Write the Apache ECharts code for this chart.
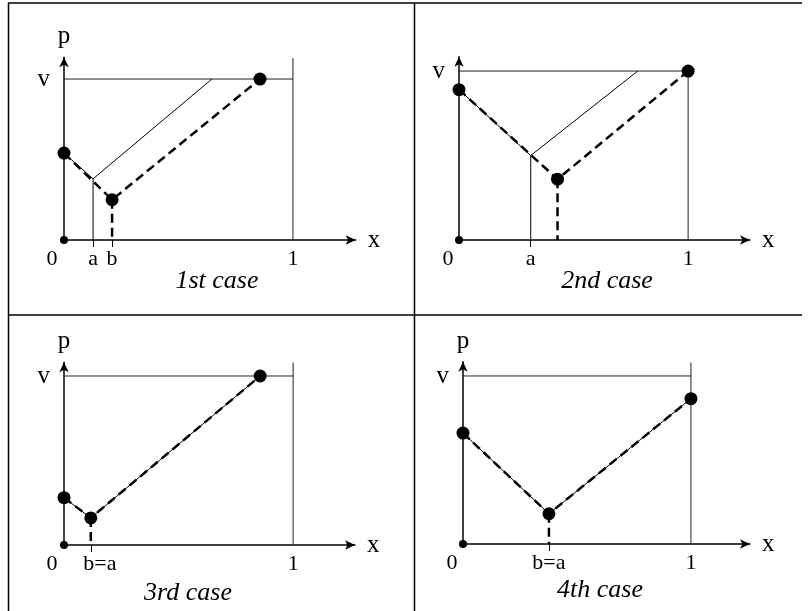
<!DOCTYPE html>
<html>
<head>
    <meta charset="utf-8">
    <title>Four cases</title>
    <script src="https://cdn.jsdelivr.net/npm/echarts@6.0.0/dist/echarts.min.js"></script>
</head>
<style>
    body { margin: 0; background: #fff; }
</style>
<body>
<div id="main" style="width: 811px; height: 611px;"></div>
<script>
// values in units of the plot: x from 0 to 1, p from 0 to v (v = 1)
const V = 1;

// 1st case
const solid1 = [[0, 0.54], [0.127, 0.38], [0.646, 1]];
const solidDrop1 = [[0.127, 0.38], [0.127, 0]];
const dashed1 = [[0, 0.54], [0.21, 0.25], [0.856, 1]];
const dashedDrop1 = [[0.21, 0.25], [0.21, 0]];
const dots1 = [[0, 0.54], [0.21, 0.25], [0.856, 1]];
const ticks1 = [0, 0.127, 0.21, 1];
const tickNames1 = ['0', 'a', 'b', '1'];

// 2nd case
const solid2 = [[0, 0.89], [0.313, 0.5], [0.78, 1]];
const solidDrop2 = [[0.313, 0.5], [0.313, 0]];
const dashed2 = [[0, 0.89], [0.43, 0.36], [1, 1]];
const dashedDrop2 = [[0.43, 0.36], [0.43, 0]];
const dots2 = [[0, 0.89], [0.43, 0.36], [1, 1]];
const ticks2 = [0, 0.313, 1];
const tickNames2 = ['0', 'a', '1'];

// 3rd case
const solid3 = [[0, 0.28], [0.117, 0.16], [0.856, 1]];
const dashed3 = [[0, 0.28], [0.117, 0.16], [0.856, 1]];
const dashedDrop3 = [[0.117, 0.16], [0.117, 0]];
const dots3 = [[0, 0.28], [0.117, 0.16], [0.856, 1]];
const ticks3 = [0, 0.117, 1];
const tickNames3 = ['0', 'b=a', '1'];

// 4th case
const solid4 = [[0, 0.66], [0.377, 0.18], [1, 0.865]];
const dashed4 = [[0, 0.66], [0.377, 0.18], [1, 0.865]];
const dashedDrop4 = [[0.377, 0.18], [0.377, 0]];
const dots4 = [[0, 0.66], [0.377, 0.18], [1, 0.865]];
const ticks4 = [0, 0.377, 1];
const tickNames4 = ['0', 'b=a', '1'];

// top of the x = 1 line in each case
const oneTop = [1.13, 1.03, 1.08, 1.08];
const captions = ['1st case', '2nd case', '3rd case', '4th case'];

const FONT = '"Liberation Serif", "DejaVu Serif", serif';
const FS = 22;   // tick labels
const NS = 25;   // axis names and the v label

const panels = [
    { solid: solid1, solidDrop: solidDrop1, dashed: dashed1, dashedDrop: dashedDrop1, dots: dots1, ticks: ticks1, names: tickNames1, showP: true,
      grid: { left: 64, top: 57.3, width: 291.7, height: 182.7 }, xMax: 1.274, yMax: 1.135, shift: { '0': -12 } },
    { solid: solid2, solidDrop: solidDrop2, dashed: dashed2, dashedDrop: dashedDrop2, dots: dots2, ticks: ticks2, names: tickNames2, showP: false,
      grid: { left: 459, top: 56.7, width: 291, height: 183.3 }, xMax: 1.27, yMax: 1.085, shift: { '0': -11 } },
    { solid: solid3, solidDrop: null, dashed: dashed3, dashedDrop: dashedDrop3, dots: dots3, ticks: ticks3, names: tickNames3, showP: true,
      grid: { left: 64, top: 362.3, width: 291, height: 182.7 }, xMax: 1.27, yMax: 1.081, shift: { '0': -12, 'b=a': 9 } },
    { solid: solid4, solidDrop: null, dashed: dashed4, dashedDrop: dashedDrop4, dots: dots4, ticks: ticks4, names: tickNames4, showP: true,
      grid: { left: 463, top: 361.7, width: 287, height: 182.3 }, xMax: 1.259, yMax: 1.085, shift: { '0': -11 } }
];

const captionPos = [[217, 281], [607, 281], [188, 593], [600, 590]];

let myChart = echarts.init(document.getElementById('main'));

function buildOption() {
    let grid = [], xAxis = [], yAxis = [], series = [];

    panels.forEach((p, i) => {
        grid.push(Object.assign({ containLabel: false, outerBoundsMode: 'none' }, p.grid));

        // rich styles to nudge a few tick labels sideways
        let rich = {};
        p.names.forEach((n, k) => {
            let s = p.shift[n] || 0;
            rich['t' + k] = {
                fontFamily: FONT, fontSize: FS, color: '#000',
                padding: s < 0 ? [0, -2 * s, 0, 0] : [0, 0, 0, 2 * s]
            };
        });

        xAxis.push({
            type: 'value', gridIndex: i, min: 0, max: p.xMax,
            name: 'x', nameLocation: 'end', nameGap: 12,
            nameTextStyle: { fontFamily: FONT, fontSize: NS, color: '#000', padding: [6, 0, 0, 0] },
            axisLine: { show: true, onZero: false, symbol: ['none', 'arrow'], symbolSize: [7, 10], lineStyle: { color: '#000', width: 1.5 } },
            axisTick: { show: true, customValues: p.ticks.slice(1, -1), length: 7, inside: false, lineStyle: { color: '#000', width: 1 } },
            axisLabel: {
                show: true, customValues: p.ticks, margin: 8, showMinLabel: true, showMaxLabel: true,
                formatter: val => {
                    let k = p.ticks.indexOf(val);
                    return k < 0 ? '' : '{t' + k + '|' + p.names[k] + '}';
                },
                rich: rich
            },
            splitLine: { show: false }
        });

        yAxis.push({
            type: 'value', gridIndex: i, min: 0, max: p.yMax,
            name: p.showP ? 'p' : '', nameLocation: 'end', nameGap: 8,
            nameTextStyle: { fontFamily: FONT, fontSize: NS, color: '#000' },
            axisLine: { show: true, onZero: false, symbol: ['none', 'arrow'], symbolSize: [7, 10], lineStyle: { color: '#000', width: 1.5 } },
            axisTick: { show: false },
            axisLabel: {
                show: true, customValues: [V], margin: 14, showMinLabel: true, showMaxLabel: true,
                formatter: () => 'v', fontFamily: FONT, fontSize: NS, color: '#000', padding: [4, 0, 0, 0]
            },
            splitLine: { show: false }
        });

        const thin = { color: '#222', width: 1 };
        const dash = { color: '#000', width: 2.5, type: [9, 5] };
        const lineBase = { type: 'line', xAxisIndex: i, yAxisIndex: i, symbol: 'none', silent: true, animation: false, clip: false };

        // v line and x = 1 line
        series.push(Object.assign({}, lineBase, { data: [[0, V], [1, V]], lineStyle: thin }));
        series.push(Object.assign({}, lineBase, { data: [[1, 0], [1, oneTop[i]]], lineStyle: thin }));

        series.push(Object.assign({}, lineBase, { data: p.solid, lineStyle: { color: '#000', width: 1 } }));
        if (p.solidDrop) series.push(Object.assign({}, lineBase, { data: p.solidDrop, lineStyle: { color: '#000', width: 1 } }));
        series.push(Object.assign({}, lineBase, { data: p.dashed, lineStyle: dash, z: 3 }));
        series.push(Object.assign({}, lineBase, { data: p.dashedDrop, lineStyle: dash, z: 3 }));

        series.push({
            type: 'scatter', xAxisIndex: i, yAxisIndex: i, data: p.dots, symbolSize: 13, clip: false,
            itemStyle: { color: '#000', opacity: 1 }, z: 5, silent: true, animation: false
        });
        series.push({
            type: 'scatter', xAxisIndex: i, yAxisIndex: i, data: [[0, 0]], symbolSize: 8, clip: false,
            itemStyle: { color: '#000', opacity: 1 }, z: 5, silent: true, animation: false
        });
    });

    // table frame and captions
    const frame = { stroke: '#000', lineWidth: 1.5 };
    let graphic = [
        { type: 'line', shape: { x1: 8, y1: 3, x2: 802, y2: 3 }, style: frame },
        { type: 'line', shape: { x1: 8.5, y1: 3, x2: 8.5, y2: 611 }, style: frame },
        { type: 'line', shape: { x1: 414.5, y1: 3, x2: 414.5, y2: 611 }, style: frame },
        { type: 'line', shape: { x1: 8, y1: 315, x2: 802, y2: 315 }, style: frame }
    ];
    captions.forEach((c, i) => {
        graphic.push({
            type: 'text', x: captionPos[i][0], y: captionPos[i][1],
            style: { text: c, fill: '#000', font: 'italic 26px ' + FONT, textAlign: 'center', textVerticalAlign: 'middle' }
        });
    });

    return {
        backgroundColor: '#fff',
        animation: false,
        grid: grid,
        xAxis: xAxis,
        yAxis: yAxis,
        series: series,
        graphic: graphic
    };
}

myChart.setOption(buildOption());
window.addEventListener('resize', () => myChart.resize());
</script>
</body>
</html>
